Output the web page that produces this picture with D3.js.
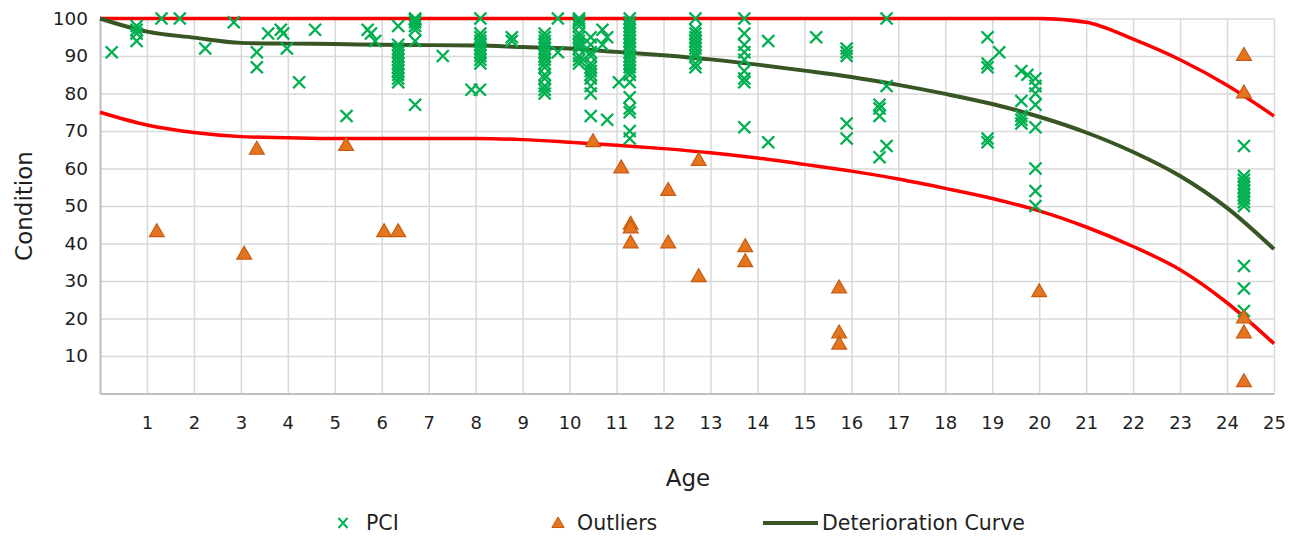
<!DOCTYPE html>
<html>
<head>
<meta charset="utf-8">
<script src="https://cdn.jsdelivr.net/npm/d3@7"></script>
<style>
  body { margin: 0; background: #fff; }
  svg text { font-family: "DejaVu Sans", Verdana, sans-serif; fill: #1f1f1f; }
</style>
</head>
<body>
<div id="vis"></div>
<script>
// curves, read at each whole year 0..25
let curveAge = d3.range(0, 26);
let upperBound = [100,100,100,100,100,100,100,100,100,100,100,100,100,100,100,100,100,100,100,100,100,99,94.5,89,82.2,74];
let deterioration = [100,96.5,94.9,93.5,93.3,93.2,93,92.9,92.8,92.4,92,91.1,90.2,89.1,87.7,86.1,84.4,82.3,79.9,77.2,73.8,69.6,64.4,58,49.5,38.5];
let lowerBound = [75,71.6,69.6,68.5,68.2,68,68,68,68,67.7,67,66.2,65.3,64.2,62.8,61.1,59.3,57.2,54.7,52,48.7,44.4,39.2,33,24.2,13.3];

// PCI points grouped by age column
let pciAge = [0.25, 0.78, 1.31, 1.7, 2.24, 2.85, 3.34, 3.58, 3.85, 3.9, 3.98, 4.24, 4.58, 5.25, 5.7, 5.77, 5.86,
  6.35, 6.71, 7.3, 7.91, 8.09, 8.1, 8.77, 9.47, 9.75, 10.2, 10.45, 10.7, 10.8, 11.05, 11.28, 12.68, 13.72,
  14.23, 15.25, 15.9, 16.6, 16.75, 18.9, 19.15, 19.62, 19.75, 19.92, 24.36];
let pciCond = [
  [91], [98, 97, 96, 94], [100], [100], [92], [99], [91, 87], [96], [97], [96], [92], [83], [97], [74], [97], [96], [94],
  [98, 93, 92, 91, 90, 89, 88, 87, 86, 85, 84, 83],
  [100, 99.6, 99, 98, 97, 94, 77],
  [90], [81], [81],
  [100, 96, 95, 94, 93, 92, 91, 90, 89, 88],
  [95, 94],
  [96, 95, 94, 93, 92, 91, 90, 89, 88, 87, 85, 84, 82, 81, 80],
  [100, 91],
  [100, 99.5, 99, 98, 96, 95, 94, 93, 92, 90, 89, 88],
  [95, 93, 91, 90, 88, 87, 86, 85, 84, 82, 80, 74],
  [97, 93],
  [95, 73],
  [83],
  [100, 99, 98, 97, 96, 95, 94, 93, 92, 91, 90, 89, 88, 87, 86, 85, 83, 79, 76, 75, 70, 68],
  [100, 97, 96, 95, 94, 93, 92, 91, 90, 88, 87],
  [100, 96, 93, 91, 89, 86, 84, 83, 71],
  [94, 67],
  [95],
  [92, 91, 90, 72, 68],
  [77, 76, 74, 63],
  [100, 82, 66],
  [95, 88, 87, 68, 67],
  [91],
  [86, 78, 74, 73, 72],
  [85],
  [84, 82, 80, 77, 71, 60, 54, 50],
  [66, 58, 57, 56, 55, 54, 53, 52, 51, 50, 34, 28, 22]
];

// outliers
let outAge = [1.21, 3.07, 3.34, 5.24, 6.05, 6.35, 10.5, 11.1, 11.3, 11.3, 11.3, 12.1, 12.1, 12.75, 12.75,
  13.74, 13.74, 15.74, 15.74, 15.74, 20, 24.36, 24.36, 24.36, 24.36, 24.36];
let outCond = [43, 37, 65, 66, 43, 43, 67, 60, 45, 44, 40, 54, 40, 62, 31,
  39, 35, 28, 16, 13, 27, 90, 80, 20, 16, 3];

let xTicks = d3.range(1, 26);
let yTicks = d3.range(10, 101, 10);

let W = 1299, H = 538;
let margin = { top: 18.5, left: 100, right: 25, bottom: 144.5 };

let svg = d3.select('#vis')
  .append('svg')
  .attr('width', W)
  .attr('height', H)
  .style('background-color', '#fff');

let xScale = d3.scaleLinear().domain([0, 25]).range([margin.left, W - margin.right]);
let yScale = d3.scaleLinear().domain([0, 100]).range([H - margin.bottom, margin.top]);

// gridlines
svg.append('g')
  .attr('transform', 'translate(0,' + yScale(0) + ')')
  .call(d3.axisBottom(xScale).tickValues(xTicks).tickSize(-(yScale(0) - yScale(100))).tickFormat(''))
  .call(g => g.select('.domain').remove())
  .selectAll('line').attr('stroke', '#d9d9d9').attr('stroke-width', 1.5);

svg.append('g')
  .attr('transform', 'translate(' + xScale(0) + ',0)')
  .call(d3.axisLeft(yScale).tickValues(yTicks).tickSize(-(xScale(25) - xScale(0))).tickFormat(''))
  .call(g => g.select('.domain').remove())
  .selectAll('line').attr('stroke', '#d9d9d9').attr('stroke-width', 1.5);

// axis lines + labels
let xAxis = svg.append('g')
  .attr('transform', 'translate(0,' + yScale(0) + ')')
  .call(d3.axisBottom(xScale).tickValues(xTicks).tickSize(0).tickPadding(23));
xAxis.select('.domain').attr('stroke', '#bfbfbf').attr('stroke-width', 2);
xAxis.selectAll('text').style('font-size', '18px').attr('fill', '#1f1f1f');

let yAxis = svg.append('g')
  .attr('transform', 'translate(' + xScale(0) + ',0)')
  .call(d3.axisLeft(yScale).tickValues(yTicks).tickSize(0).tickPadding(12));
yAxis.select('.domain').attr('stroke', '#bfbfbf').attr('stroke-width', 2);
yAxis.selectAll('text').style('font-size', '18.5px').attr('fill', '#1f1f1f');

// axis titles
svg.append('text')
  .attr('x', 688).attr('y', 486)
  .attr('text-anchor', 'middle')
  .style('font-size', '23px')
  .text('Age');

svg.append('text')
  .attr('transform', 'translate(32,206) rotate(-90)')
  .attr('text-anchor', 'middle')
  .style('font-size', '23px')
  .text('Condition');

// curves
let line = d3.line()
  .x((d, i) => xScale(curveAge[i]))
  .y(d => yScale(d))
  .curve(d3.curveMonotoneX);

svg.append('path').datum(upperBound)
  .attr('d', line).attr('fill', 'none').attr('stroke', '#ff0000').attr('stroke-width', 3.5);
svg.append('path').datum(lowerBound)
  .attr('d', line).attr('fill', 'none').attr('stroke', '#ff0000').attr('stroke-width', 3.5);
svg.append('path').datum(deterioration)
  .attr('d', line).attr('fill', 'none').attr('stroke', '#375623').attr('stroke-width', 4);

// PCI points
let pciPoints = [];
pciAge.forEach(function(a, i) {
  pciCond[i].forEach(function(c) { pciPoints.push({ age: a, cond: c }); });
});

let xMark = 'M-6,-6L6,6M-6,6L6,-6';

svg.append('g')
  .selectAll('path')
  .data(pciPoints)
  .enter()
  .append('path')
    .attr('transform', d => 'translate(' + xScale(d.age) + ',' + yScale(d.cond) + ')')
    .attr('d', xMark)
    .attr('stroke', '#00b050')
    .attr('stroke-width', 2.4)
    .attr('fill', 'none');

// outliers
let tri = d3.symbol().type(d3.symbolTriangle).size(95);

svg.append('g')
  .selectAll('path')
  .data(outAge.map((a, i) => ({ age: a, cond: outCond[i] })))
  .enter()
  .append('path')
    .attr('transform', d => 'translate(' + xScale(d.age) + ',' + yScale(d.cond) + ')')
    .attr('d', tri)
    .attr('fill', '#e5741f')
    .attr('stroke', '#c55a11')
    .attr('stroke-width', 1.2);

// legend
let legY = 523;
let leg = svg.append('g');
leg.append('path')
  .attr('transform', 'translate(343,' + legY + ')')
  .attr('d', 'M-4.5,-5L4.5,5M-4.5,5L4.5,-5')
  .attr('stroke', '#00b050').attr('stroke-width', 2).attr('fill', 'none');
leg.append('text').attr('x', 366).attr('y', legY + 7).style('font-size', '20.5px').text('PCI');

leg.append('path')
  .attr('transform', 'translate(558,' + (legY + 1) + ')')
  .attr('d', d3.symbol().type(d3.symbolTriangle).size(65))
  .attr('fill', '#e5741f').attr('stroke', '#c55a11').attr('stroke-width', 1);
leg.append('text').attr('x', 577).attr('y', legY + 7).style('font-size', '20.5px').text('Outliers');

leg.append('line')
  .attr('x1', 763).attr('x2', 818).attr('y1', legY).attr('y2', legY)
  .attr('stroke', '#375623').attr('stroke-width', 4);
leg.append('text').attr('x', 822).attr('y', legY + 7).style('font-size', '20.5px').text('Deterioration Curve');
</script>
</body>
</html>
